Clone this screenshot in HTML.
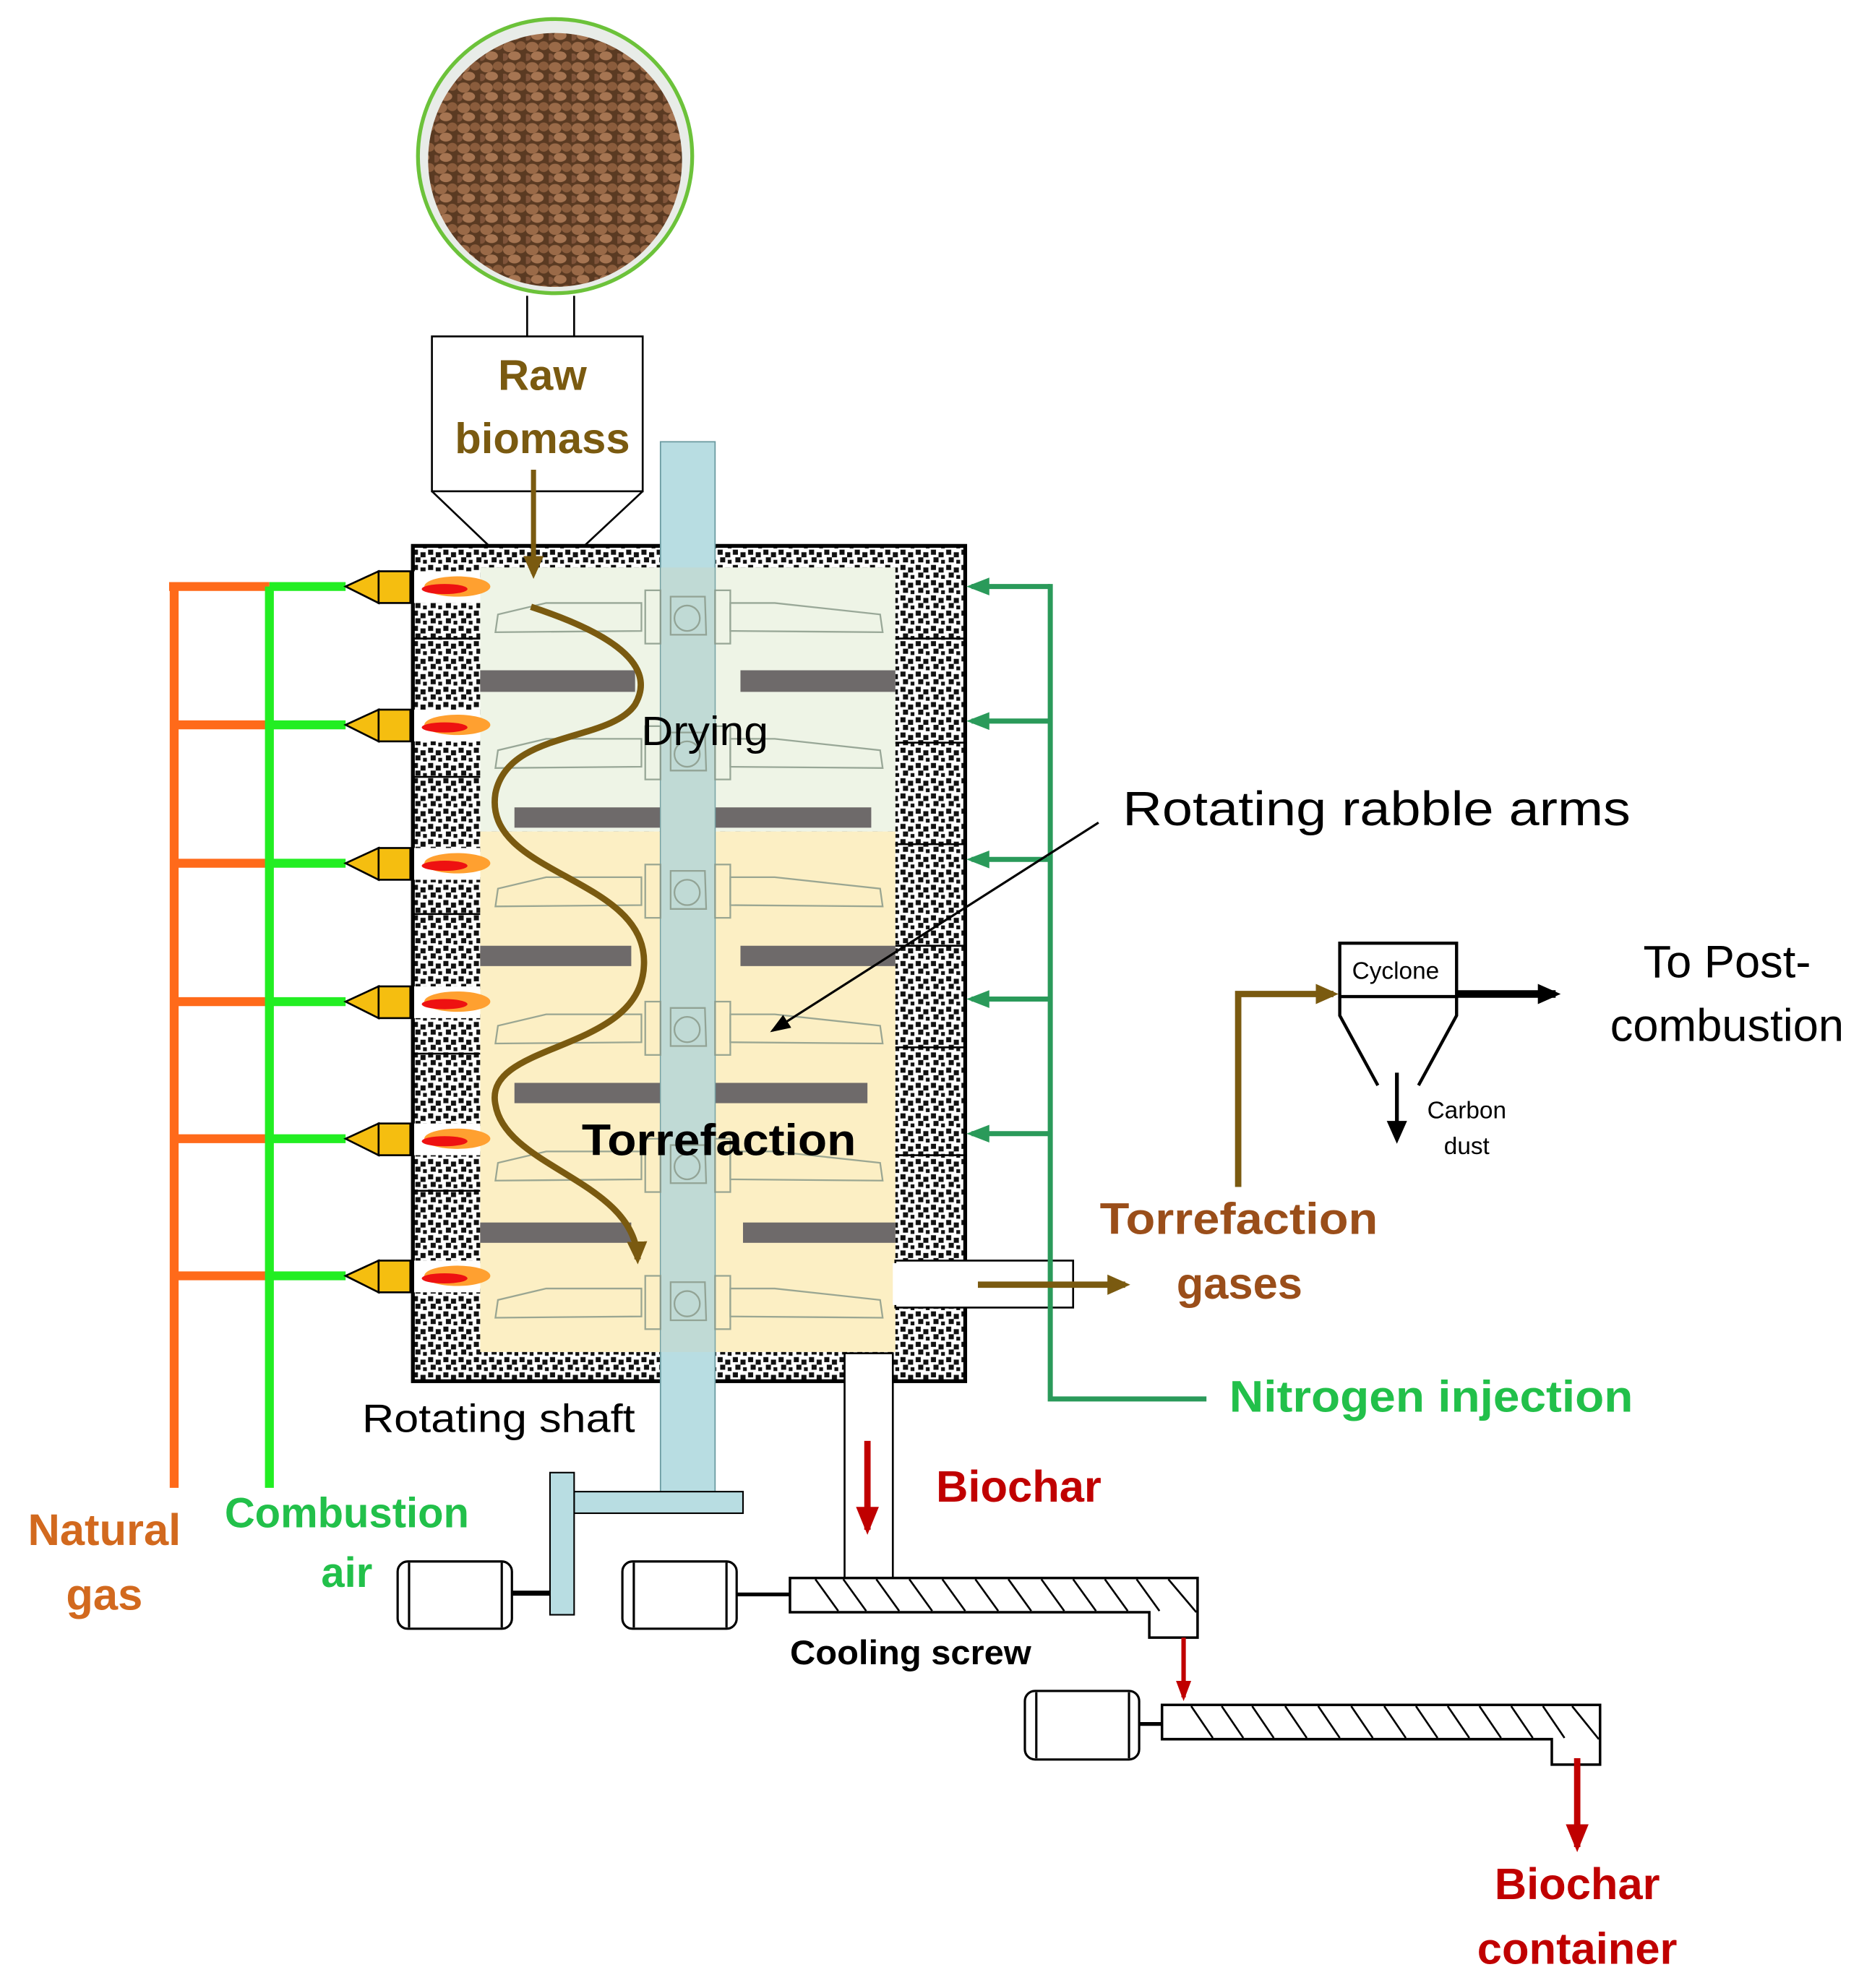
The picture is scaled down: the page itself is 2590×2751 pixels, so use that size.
<!DOCTYPE html>
<html><head><meta charset="utf-8"><style>html,body{margin:0;padding:0;background:#fff}svg{display:block}</style></head>
<body>
<svg xmlns="http://www.w3.org/2000/svg" width="2590" height="2751" viewBox="0 0 1474 1566" font-family="Liberation Sans, sans-serif">
<defs>
<pattern id="dots" width="12" height="12" patternUnits="userSpaceOnUse">
<rect width="12" height="12" fill="#fff"/>
<rect x="1" y="1" width="4" height="4" fill="#111"/><rect x="7" y="3" width="4" height="4" fill="#111"/>
<rect x="3" y="7" width="4" height="4" fill="#111"/><rect x="9" y="9" width="3" height="3" fill="#111"/>
</pattern>
<pattern id="grain" width="18" height="16" patternUnits="userSpaceOnUse">
<rect width="18" height="16" fill="#5a3a22"/>
<ellipse cx="5" cy="5" rx="5" ry="4" fill="#9a6a48"/><ellipse cx="14" cy="4" rx="4" ry="3.5" fill="#8a5c3c"/>
<ellipse cx="9" cy="12" rx="5" ry="3.5" fill="#a67552"/><ellipse cx="1" cy="13" rx="3" ry="3" fill="#80543a"/>
</pattern>
<marker id="ab" markerWidth="18" markerHeight="18" refX="14" refY="9" orient="auto" markerUnits="userSpaceOnUse"><path d="M0,1L18,9L0,17z" fill="#7a5a10"/></marker>
<marker id="ak" markerWidth="16" markerHeight="14" refX="14" refY="7" orient="auto" markerUnits="userSpaceOnUse"><path d="M0,1L16,7L0,13z" fill="#000"/></marker>
<marker id="ak2" markerWidth="18" markerHeight="18" refX="14" refY="9" orient="auto" markerUnits="userSpaceOnUse"><path d="M0,1L18,9L0,17z" fill="#000"/></marker>
<marker id="ar" markerWidth="22" markerHeight="20" refX="18" refY="10" orient="auto" markerUnits="userSpaceOnUse"><path d="M0,1L22,10L0,19z" fill="#c00000"/></marker>
<marker id="ars" markerWidth="16" markerHeight="14" refX="13" refY="7" orient="auto" markerUnits="userSpaceOnUse"><path d="M0,1L16,7L0,13z" fill="#c00000"/></marker>
<marker id="ag" markerWidth="18" markerHeight="16" refX="14" refY="8" orient="auto" markerUnits="userSpaceOnUse"><path d="M0,1L18,8L0,15z" fill="#2a9a5a"/></marker>
</defs>

<!-- biomass bowl -->
<circle cx="437" cy="123" r="108" fill="#e8ece8" stroke="#6cc23a" stroke-width="3"/>
<circle cx="437" cy="126" r="100" fill="url(#grain)"/>
<line x1="415" y1="233" x2="415" y2="265" stroke="#000" stroke-width="1.5"/>
<line x1="452" y1="233" x2="452" y2="265" stroke="#000" stroke-width="1.5"/>
<!-- hopper -->
<rect x="340" y="265" width="166" height="122" fill="#fff" stroke="#000" stroke-width="1.5"/>
<path d="M340,387L385,430M506,387L460,430" stroke="#000" stroke-width="1.5"/>
<text x="427" y="307" font-size="34" font-weight="bold" fill="#7a5a10" text-anchor="middle">Raw</text>
<text x="427" y="357" font-size="34" font-weight="bold" fill="#7a5a10" text-anchor="middle">biomass</text>

<!-- reactor walls -->
<rect x="325" y="430" width="435" height="658" fill="url(#dots)" stroke="#000" stroke-width="3"/>
<rect x="378" y="447" width="327" height="208" fill="#eef4e6"/>
<rect x="378" y="655" width="327" height="410" fill="#fcefc4"/>
<g stroke="#000" stroke-width="1.5">
<line x1="325" y1="503" x2="378" y2="503"/><line x1="325" y1="612" x2="378" y2="612"/><line x1="325" y1="720" x2="378" y2="720"/><line x1="325" y1="830" x2="378" y2="830"/><line x1="325" y1="938" x2="378" y2="938"/>
<line x1="705" y1="503" x2="760" y2="503"/><line x1="705" y1="585" x2="760" y2="585"/><line x1="705" y1="665" x2="760" y2="665"/><line x1="705" y1="745" x2="760" y2="745"/><line x1="705" y1="825" x2="760" y2="825"/><line x1="705" y1="910" x2="760" y2="910"/>
</g>
<g fill="#fff">
<rect x="326" y="450" width="52" height="25"/><rect x="326" y="559" width="52" height="25"/><rect x="326" y="668" width="52" height="25"/><rect x="326" y="777" width="52" height="25"/><rect x="326" y="885" width="52" height="25"/><rect x="326" y="993" width="52" height="25"/>
</g>
<g>
<g><ellipse cx="360" cy="462" rx="26" ry="8" fill="#ffa030"/><ellipse cx="350" cy="464" rx="18" ry="4" fill="#ee1111"/></g>
<g><ellipse cx="360" cy="571" rx="26" ry="8" fill="#ffa030"/><ellipse cx="350" cy="573" rx="18" ry="4" fill="#ee1111"/></g>
<g><ellipse cx="360" cy="680" rx="26" ry="8" fill="#ffa030"/><ellipse cx="350" cy="682" rx="18" ry="4" fill="#ee1111"/></g>
<g><ellipse cx="360" cy="789" rx="26" ry="8" fill="#ffa030"/><ellipse cx="350" cy="791" rx="18" ry="4" fill="#ee1111"/></g>
<g><ellipse cx="360" cy="897" rx="26" ry="8" fill="#ffa030"/><ellipse cx="350" cy="899" rx="18" ry="4" fill="#ee1111"/></g>
<g><ellipse cx="360" cy="1005" rx="26" ry="8" fill="#ffa030"/><ellipse cx="350" cy="1007" rx="18" ry="4" fill="#ee1111"/></g>
</g>
<rect x="705" y="993" width="140" height="37" fill="#fff" stroke="#000" stroke-width="1.5"/>
<rect x="703" y="995" width="6" height="33" fill="#fff"/>
<rect x="665" y="1066" width="38" height="178" fill="#fff" stroke="#000" stroke-width="1.5"/>

<g fill="#6e6a6a">
<rect x="378" y="528" width="122" height="17"/><rect x="583" y="528" width="122" height="17"/>
<rect x="405" y="636" width="115" height="16"/><rect x="563" y="636" width="123" height="16"/>
<rect x="378" y="745" width="119" height="16"/><rect x="583" y="745" width="122" height="16"/>
<rect x="405" y="853" width="115" height="16"/><rect x="563" y="853" width="120" height="16"/>
<rect x="378" y="963" width="119" height="16"/><rect x="585" y="963" width="120" height="16"/>
</g>
<rect x="520" y="348" width="43" height="827" fill="#b8dde2" stroke="#6a9aa0" stroke-width="1"/>
<rect x="520" y="447" width="43" height="618" fill="#c8d8c8" opacity="0.5"/>
<g fill="none" stroke="#8a9a8a" stroke-width="1.3" opacity="0.85">
<g id="arm">
<path d="M390,498L392,484L430,475L505,475L505,497Z"/>
<path d="M695,498L693,484L610,475L575,475L575,497Z"/>
<rect x="508" y="465" width="12" height="42"/><rect x="563" y="465" width="12" height="42"/>
<path d="M528,470L555,470L556,500L528,500Z"/>
<circle cx="541" cy="487" r="10"/>
</g>
<use href="#arm" y="107"/><use href="#arm" y="216"/><use href="#arm" y="324"/><use href="#arm" y="432"/><use href="#arm" y="540"/>
</g>

<path d="M418,478 C470,495 520,520 500,555 C480,585 400,575 390,625 C380,690 510,690 507,760 C505,830 380,820 390,870 C398,920 500,930 502,992" fill="none" stroke="#7a5a10" stroke-width="5" marker-end="url(#ab)"/>
<line x1="420" y1="370" x2="420" y2="452" stroke="#7a5a10" stroke-width="4" marker-end="url(#ab)"/>

<text x="505" y="587" font-size="32" fill="#000" textLength="100" lengthAdjust="spacingAndGlyphs">Drying</text>
<text x="458" y="910" font-size="35" fill="#000" font-weight="bold" textLength="216" lengthAdjust="spacingAndGlyphs">Torrefaction</text>

<g stroke-width="7" fill="none">
<path d="M137,1172 V462" stroke="#ff6a1a"/>
<g stroke="#ff6a1a"><path d="M133,462H212M137,571H212M137,680H212M137,789H212M137,897H212M137,1005H212"/></g>
<path d="M212,1172 V462" stroke="#22ee22"/>
<g stroke="#22ee22"><path d="M212,462H272M212,571H272M212,680H272M212,789H272M212,897H272M212,1005H272"/></g>
</g>
<g fill="#f5be10" stroke="#000" stroke-width="1.5">
<g id="bn"><path d="M272,462L298,450L298,475Z"/><rect x="298" y="450" width="25" height="25"/></g>
<use href="#bn" y="109"/><use href="#bn" y="218"/><use href="#bn" y="327"/><use href="#bn" y="435"/><use href="#bn" y="543"/>
</g>

<g stroke="#2a9a5a" stroke-width="4" fill="none">
<path d="M827,460V1102H950"/>
<path d="M827,462H765" marker-end="url(#ag)"/><path d="M827,568H765" marker-end="url(#ag)"/><path d="M827,677H765" marker-end="url(#ag)"/><path d="M827,787H765" marker-end="url(#ag)"/><path d="M827,893H765" marker-end="url(#ag)"/>
</g>
<text x="968" y="1112" font-size="35" font-weight="bold" fill="#22c04a" textLength="318" lengthAdjust="spacingAndGlyphs">Nitrogen injection</text>

<line x1="770" y1="1012" x2="886" y2="1012" stroke="#7a5a10" stroke-width="5" marker-end="url(#ab)"/>
<path d="M975,935V783H1050" fill="none" stroke="#7a5a10" stroke-width="5" marker-end="url(#ab)"/>
<text x="866" y="972" font-size="35" font-weight="bold" fill="#9a4e1a" textLength="219" lengthAdjust="spacingAndGlyphs">Torrefaction</text>
<text x="976" y="1023" font-size="35" font-weight="bold" fill="#9a4e1a" text-anchor="middle">gases</text>

<path d="M1055,743H1147V785H1055Z" fill="#fff" stroke="#000" stroke-width="2.5"/>
<path d="M1055,785V800L1085,855M1147,785V800L1117,855" fill="none" stroke="#000" stroke-width="2.5"/>
<text x="1099" y="771" font-size="19" text-anchor="middle">Cyclone</text>
<line x1="1147" y1="783" x2="1225" y2="783" stroke="#000" stroke-width="6" marker-end="url(#ak2)"/>
<line x1="1100" y1="845" x2="1100" y2="897" stroke="#000" stroke-width="3" marker-end="url(#ak2)"/>
<text x="1155" y="881" font-size="19" text-anchor="middle">Carbon</text>
<text x="1155" y="909" font-size="19" text-anchor="middle">dust</text>
<text x="1360" y="770" font-size="36" text-anchor="middle">To Post-</text>
<text x="1360" y="820" font-size="36" text-anchor="middle">combustion</text>

<text x="884" y="650" font-size="38" textLength="400" lengthAdjust="spacingAndGlyphs">Rotating rabble arms</text>
<line x1="865" y1="648" x2="608" y2="812" stroke="#000" stroke-width="1.8" marker-end="url(#ak)"/>

<text x="285" y="1128" font-size="31" textLength="215" lengthAdjust="spacingAndGlyphs">Rotating shaft</text>

<rect x="452" y="1175" width="133" height="17" fill="#b8dde2" stroke="#000" stroke-width="1.2"/>
<rect x="433" y="1160" width="19" height="112" fill="#b8dde2" stroke="#000" stroke-width="1.2"/>
<line x1="403" y1="1255" x2="433" y2="1255" stroke="#000" stroke-width="4"/>
<g fill="#fff" stroke="#000" stroke-width="1.8">
<rect x="313" y="1230" width="90" height="53" rx="8"/><line x1="322" y1="1231" x2="322" y2="1282"/><line x1="395" y1="1231" x2="395" y2="1282"/>
<rect x="490" y="1230" width="90" height="53" rx="8"/><line x1="499" y1="1231" x2="499" y2="1282"/><line x1="572" y1="1231" x2="572" y2="1282"/>
<rect x="807" y="1332" width="90" height="54" rx="8"/><line x1="816" y1="1333" x2="816" y2="1385"/><line x1="889" y1="1333" x2="889" y2="1385"/>
</g>
<line x1="580" y1="1256" x2="622" y2="1256" stroke="#000" stroke-width="3"/>
<line x1="897" y1="1358" x2="915" y2="1358" stroke="#000" stroke-width="3"/>

<path d="M622,1243H943V1290H905V1270H622Z" fill="#fff" stroke="#000" stroke-width="2"/>
<g stroke="#000" stroke-width="1.5">
<path d="M642,1244L660,1269M664,1244L682,1269M690,1244L708,1269M716,1244L734,1269M742,1244L760,1269M768,1244L786,1269M794,1244L812,1269M820,1244L838,1269M845,1244L863,1269M870,1244L888,1269M895,1244L913,1269M920,1244L942,1270"/>
</g>
<text x="622" y="1311" font-size="27" font-weight="bold" textLength="190" lengthAdjust="spacingAndGlyphs">Cooling screw</text>
<path d="M915,1343H1260V1390H1222V1370H915Z" fill="#fff" stroke="#000" stroke-width="2"/>
<g stroke="#000" stroke-width="1.5">
<path d="M938,1344L955,1369M962,1344L979,1369M986,1344L1003,1369M1012,1344L1029,1369M1038,1344L1055,1369M1064,1344L1081,1369M1090,1344L1107,1369M1115,1344L1132,1369M1140,1344L1157,1369M1165,1344L1182,1369M1190,1344L1207,1369M1215,1344L1232,1369M1238,1344L1259,1370"/>
</g>

<line x1="683" y1="1135" x2="683" y2="1205" stroke="#c00000" stroke-width="5" marker-end="url(#ar)"/>
<line x1="932" y1="1290" x2="932" y2="1337" stroke="#c00000" stroke-width="3.5" marker-end="url(#ars)"/>
<line x1="1242" y1="1385" x2="1242" y2="1455" stroke="#c00000" stroke-width="5" marker-end="url(#ar)"/>
<text x="737" y="1183" font-size="35" font-weight="bold" fill="#c00000">Biochar</text>
<text x="1242" y="1496" font-size="35" font-weight="bold" fill="#c00000" text-anchor="middle">Biochar</text>
<text x="1242" y="1547" font-size="35" font-weight="bold" fill="#c00000" text-anchor="middle">container</text>

<text x="82" y="1217" font-size="35" font-weight="bold" fill="#d2691e" text-anchor="middle">Natural</text>
<text x="82" y="1268" font-size="35" font-weight="bold" fill="#d2691e" text-anchor="middle">gas</text>
<text x="273" y="1203" font-size="33" font-weight="bold" fill="#22c04a" text-anchor="middle">Combustion</text>
<text x="273" y="1250" font-size="33" font-weight="bold" fill="#22c04a" text-anchor="middle">air</text>
</svg>
</body></html>
